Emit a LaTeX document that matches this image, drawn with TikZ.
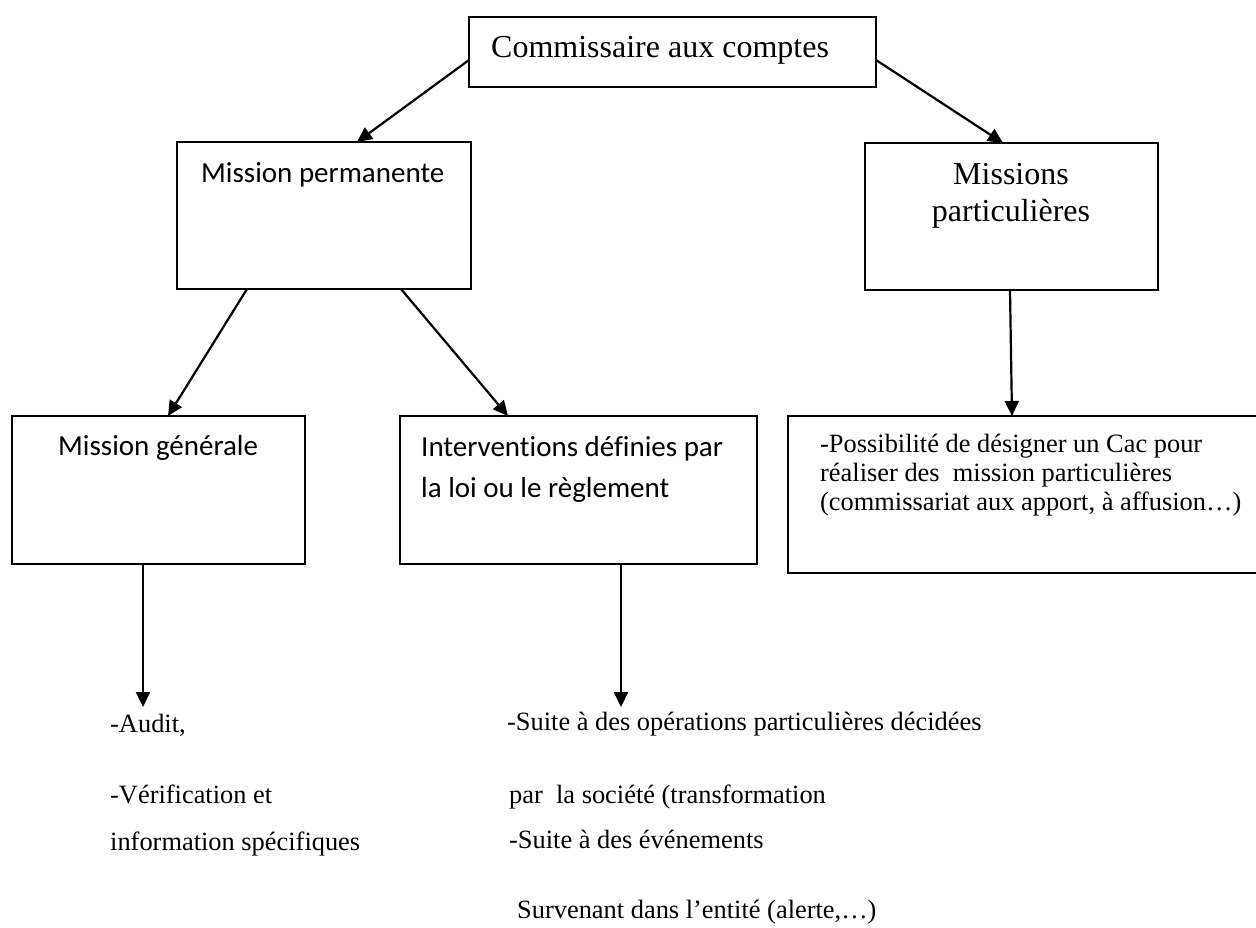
\documentclass[tikz,border=0pt]{standalone}
\usepackage{fontspec}
\setmainfont[Ligatures=NoCommon]{Liberation Serif}
\newfontfamily\boxsans[Ligatures=NoCommon]{Carlito}
\usetikzlibrary{arrows.meta,calc}
\begin{document}
\begin{tikzpicture}[x=1pt,y=-1pt,
  frame/.style={draw,line width=2pt,rectangle,anchor=north west,inner sep=0pt,outer sep=0pt},
  link/.style={line width=2.2pt,-{Triangle[length=15pt,width=14pt]}},
  serifbig/.style={anchor=base west,inner sep=0pt,font=\fontsize{32}{38}\selectfont},
  seriftext/.style={anchor=base west,inner sep=0pt,font=\fontsize{26.4}{28}\selectfont},
  sanstext/.style={anchor=base west,inner sep=0pt,font=\boxsans\fontsize{29}{35}\selectfont}]

% page area
\useasboundingbox (0,0) rectangle (1256,927);
\fill[white] (0,0) rectangle (1256,927);
\clip (0,0) rectangle (1256,927);

% boxes
\node[frame,minimum width=407pt,minimum height=70pt]  (top)   at (469,17)  {};
\node[frame,minimum width=294pt,minimum height=147pt] (mp)    at (177,142) {};
\node[frame,minimum width=293pt,minimum height=147pt] (mpart) at (865,143) {};
\node[frame,minimum width=293pt,minimum height=148pt] (mg)    at (12,416)  {};
\node[frame,minimum width=357pt,minimum height=148pt] (int)   at (400,416) {};
\node[frame,minimum width=471pt,minimum height=157pt] (poss)  at (788,416) {};

% box texts
\node[serifbig] (ttop) at (491,57) {Commissaire aux comptes};
\node[sanstext] (tmp) at (201,182) {Mission permanente};
\node[serifbig,anchor=base] (tmpart1) at (1011,184) {Missions};
\node[serifbig,anchor=base] (tmpart2) at (1011,221) {particulières};
\node[sanstext] (tmg) at (58,455) {Mission générale};
\node[sanstext] (tint1) at (421,456) {Interventions définies par};
\node[sanstext] (tint2) at (421,497) {la loi ou le règlement};
\node[seriftext] (tposs1) at (820,452) {-Possibilité de désigner un Cac pour};
\node[seriftext] (tposs2) at (820,481) {réaliser des~ mission particulières};
\node[seriftext] (tposs3) at (820,510) {(commissariat aux apport, à affusion…)};

% free texts below the boxes
\node[seriftext] (audit) at (110,732) {-Audit,};
\node[seriftext] (verif) at (110,803) {-Vérification et};
\node[seriftext] (info)  at (110,850) {information spécifiques};
\node[seriftext] (suite1) at (507,730) {-Suite à des opérations particulières décidées};
\node[seriftext] (suite2) at (509,803) {par~ la société (transformation};
\node[seriftext] (suite3) at (509,848) {-Suite à des événements};
\node[seriftext] (suite4) at (517,918) {Survenant dans l’entité (alerte,…)};

% arrow ends above the lists
\coordinate (mgend)  at (143,707);
\coordinate (intend) at (621,707);

% connectors
\draw[link] ($(top.north west)+(0,43)$) -- ($(mp.north west)+(180,0)$);
\draw[link] ($(top.north east)+(0,43)$) -- ($(mpart.north west)+(138,0)$);
\draw[link] ($(mp.south west)+(70,0)$)  -- ($(mg.north west)+(156,0)$);
\draw[link] ($(mp.south west)+(224,0)$) -- ($(int.north west)+(108,0)$);
\draw[link] ($(mg.south west)+(131,0)$) -- (mgend);
\draw[link] ($(int.south west)+(221,0)$) -- (intend);
\draw[link] ($(mpart.south west)+(145,0)$) -- ($(poss.north west)+(224,0)$);
\end{tikzpicture}
\end{document}
